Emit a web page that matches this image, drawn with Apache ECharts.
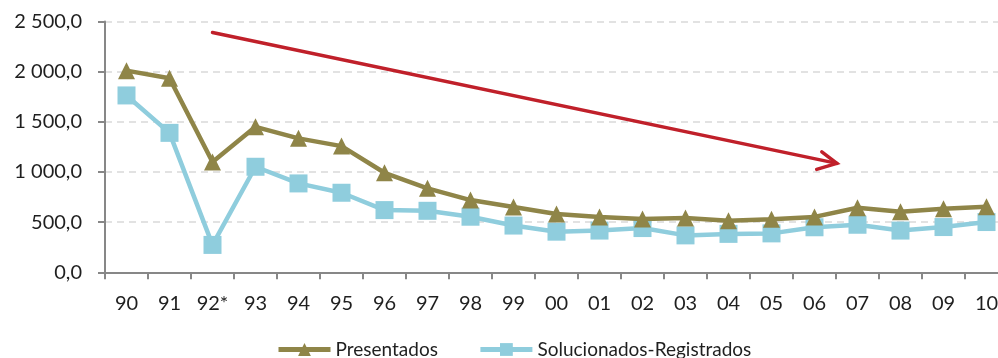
<!DOCTYPE html>
<html>
<head>
<meta charset="utf-8">
<script src="https://cdn.jsdelivr.net/npm/echarts@6/dist/echarts.min.js"></script>
<style>
  html, body { margin: 0; padding: 0; background: #ffffff; overflow: hidden; }
  #chart { width: 998px; height: 358px; }
</style>
</head>
<body>
<div id="chart"></div>
<script>
// Years (two-digit), 1992 flagged with an asterisk
const years = ['90', '91', '92*', '93', '94', '95', '96', '97', '98', '99',
               '00', '01', '02', '03', '04', '05', '06', '07', '08', '09', '10'];

// Cases filed per year
const presentados = [2010, 1935, 1100, 1450, 1335, 1258, 992, 837, 720, 650,
                     582, 552, 532, 542, 514, 528, 552, 644, 604, 634, 654];

// Cases solved / registered per year
const solucionados = [1763, 1390, 273, 1052, 886, 793, 620, 613, 554, 466,
                      405, 416, 441, 368, 383, 388, 449, 474, 416, 451, 501];

// Value axis range
const yMin = 0, yMax = 2500, yStep = 500;

// Downward trend arrow, in (category index, value) units
const arrowShaft = [[2.0, 2390], [16.52, 1086]];
const arrowHead = [[16.17, 1201], [16.52, 1086], [16.05, 1026]];

const FONT = 'Lato';
const TEXT = '#1f1f1f';
const OLIVE = '#8F8548';
const BLUE = '#8FCDDD';
const RED = '#C0202A';

function fmtValue(v) {
  const parts = v.toFixed(1).split('.');
  const intPart = parts[0].replace(/\B(?=(\d{3})+(?!\d))/g, ' ');
  return intPart + ',' + parts[1];
}

const chart = echarts.init(document.getElementById('chart'), null, { renderer: 'canvas' });

chart.setOption({
  animation: false,
  backgroundColor: '#ffffff',
  textStyle: { fontFamily: FONT },
  // plot area runs a little past the right edge of the canvas
  grid: {
    left: 105, width: 903, top: 21.5, bottom: 85.7,
    containLabel: false, outerBoundsMode: 'none'
  },
  legend: {
    data: ['Presentados', 'Solucionados-Registrados'],
    left: 271,
    top: 335,
    itemWidth: 52,
    itemHeight: 16,
    itemGap: 40,
    lineStyle: { width: 5 },
    textStyle: { fontFamily: FONT, fontSize: 19, color: TEXT },
    selectedMode: false
  },
  xAxis: [
    {
      type: 'category',
      data: years,
      boundaryGap: true,
      axisLine: { lineStyle: { color: '#878787', width: 2 } },
      axisTick: { show: true, length: 7, lineStyle: { color: '#878787', width: 2 } },
      axisLabel: { fontFamily: FONT, fontSize: 20, color: TEXT, margin: 21 },
      splitLine: { show: false }
    },
    {
      type: 'value',
      min: -0.5,
      max: 20.5,
      show: false
    }
  ],
  yAxis: {
    type: 'value',
    min: yMin,
    max: yMax,
    interval: yStep,
    axisLine: { show: true, onZero: false, lineStyle: { color: '#878787', width: 2 } },
    axisTick: { show: true, length: 7, lineStyle: { color: '#878787', width: 2 } },
    axisLabel: { fontFamily: FONT, fontSize: 20, color: TEXT, margin: 23, formatter: fmtValue },
    splitLine: { show: true, lineStyle: { color: '#D9D9D9', width: 1.5, type: [7, 5] } }
  },
  series: [
    {
      name: 'Presentados',
      type: 'line',
      data: presentados,
      symbol: 'triangle',
      symbolSize: [17, 17],
      lineStyle: { color: OLIVE, width: 4.5 },
      itemStyle: { color: OLIVE },
      z: 3
    },
    {
      name: 'Solucionados-Registrados',
      type: 'line',
      data: solucionados,
      symbol: 'rect',
      symbolSize: 18,
      lineStyle: { color: BLUE, width: 4.5 },
      itemStyle: { color: BLUE },
      z: 2
    },
    {
      name: 'arrowShaft',
      type: 'line',
      xAxisIndex: 1,
      data: arrowShaft,
      symbol: 'none',
      silent: true,
      lineStyle: { color: RED, width: 3.5, cap: 'round' },
      z: 4
    },
    {
      name: 'arrowHead',
      type: 'line',
      xAxisIndex: 1,
      data: arrowHead,
      symbol: 'none',
      silent: true,
      lineStyle: { color: RED, width: 3.5, cap: 'round', join: 'miter' },
      z: 4
    }
  ]
});
</script>
</body>
</html>
